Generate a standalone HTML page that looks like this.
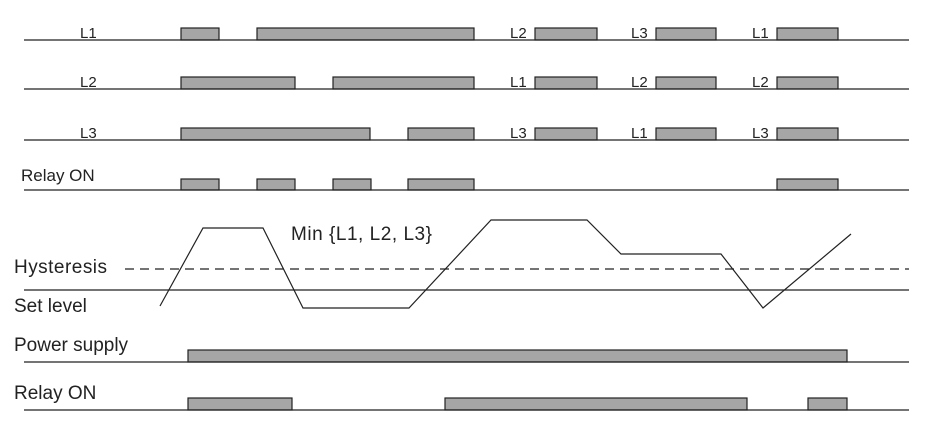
<!DOCTYPE html>
<html><head><style>body{margin:0;background:#fff}svg{display:block}</style></head><body>
<svg width="943" height="434" viewBox="0 0 943 434" xmlns="http://www.w3.org/2000/svg" font-family="Liberation Sans, sans-serif">
<g fill="#a6a6a6" stroke="#222" stroke-width="1.2">
<rect x="181" y="28" width="38" height="12"/><rect x="257" y="28" width="217" height="12"/>
<rect x="535" y="28" width="62" height="12"/><rect x="656" y="28" width="60" height="12"/><rect x="777" y="28" width="61" height="12"/>
<rect x="181" y="77" width="114" height="12"/><rect x="333" y="77" width="141" height="12"/>
<rect x="535" y="77" width="62" height="12"/><rect x="656" y="77" width="60" height="12"/><rect x="777" y="77" width="61" height="12"/>
<rect x="181" y="128" width="189" height="12"/><rect x="408" y="128" width="66" height="12"/>
<rect x="535" y="128" width="62" height="12"/><rect x="656" y="128" width="60" height="12"/><rect x="777" y="128" width="61" height="12"/>
<rect x="181" y="179" width="38" height="11"/><rect x="257" y="179" width="38" height="11"/><rect x="333" y="179" width="38" height="11"/><rect x="408" y="179" width="66" height="11"/><rect x="777" y="179" width="61" height="11"/>
<rect x="188" y="350" width="659" height="12"/>
<rect x="188" y="398" width="104" height="12"/><rect x="445" y="398" width="302" height="12"/><rect x="808" y="398" width="39" height="12"/>
</g>
<g stroke="#222" stroke-width="1.3">
<line x1="24" y1="40" x2="909" y2="40"/><line x1="24" y1="89" x2="909" y2="89"/>
<line x1="24" y1="140" x2="909" y2="140"/><line x1="24" y1="190" x2="909" y2="190"/>
<line x1="24" y1="290" x2="909" y2="290"/><line x1="24" y1="362" x2="909" y2="362"/>
<line x1="24" y1="410" x2="909" y2="410"/>
<line x1="125" y1="269" x2="909" y2="269" stroke-dasharray="9,6"/>
</g>
<polyline fill="none" stroke="#222" stroke-width="1.2" points="160,306 203,228 263,228 303,308 409,308 491,220 587,220 621,254 721,254 763,308 851,234"/>
<g font-size="15" fill="#222">
<text x="80" y="38">L1</text><text x="80" y="87">L2</text><text x="80" y="138">L3</text>
<text x="510" y="38">L2</text><text x="631" y="38">L3</text><text x="752" y="38">L1</text>
<text x="510" y="87">L1</text><text x="631" y="87">L2</text><text x="752" y="87">L2</text>
<text x="510" y="138">L3</text><text x="631" y="138">L1</text><text x="752" y="138">L3</text>
<text x="21" y="181" font-size="17">Relay ON</text>
</g>
<g font-size="19" fill="#222">
<text x="291" y="240" textLength="141">Min {L1, L2, L3}</text>
<text x="14" y="273" textLength="93">Hysteresis</text>
<text x="14" y="312">Set level</text>
<text x="14" y="351">Power supply</text>
<text x="14" y="399">Relay ON</text>
</g>
</svg>
</body></html>
